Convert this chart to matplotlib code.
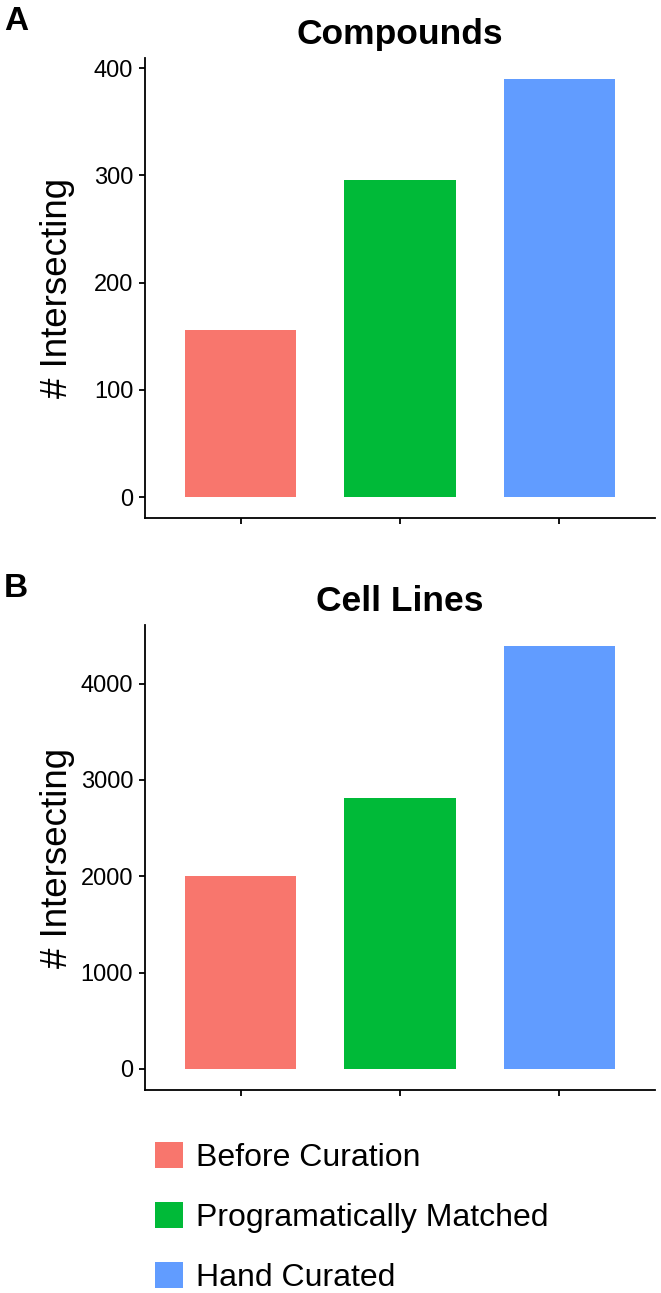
import matplotlib
matplotlib.use('Agg')
import matplotlib.pyplot as plt

plt.rcParams['font.family'] = ['Liberation Sans', 'DejaVu Sans']

# data
groups = ['Before Curation', 'Programatically Matched', 'Hand Curated']
colors = ['#F8766D', '#00BA38', '#619CFF']
compounds = [156, 296, 390]
cell_lines = [2003, 2810, 4388]
compound_ticks = [0, 100, 200, 300, 400]
cell_ticks = [0, 1000, 2000, 3000, 4000]

fig = plt.figure(figsize=(6.61, 12.93), dpi=100)

# axes boxes in figure fractions (left, bottom, width, height)
ax_a = fig.add_axes([145 / 661, 1 - 518 / 1293, 510 / 661, 460 / 1293])
ax_b = fig.add_axes([145 / 661, 1 - 1090 / 1293, 510 / 661, 465 / 1293])


def draw_panel(ax, values, ticks, title):
    x = range(len(values))
    bars = ax.bar(x, values, width=0.7, color=colors)
    ax.set_xlim(-0.6, len(values) - 0.4)
    top = max(values)
    ax.set_ylim(-0.05 * top, 1.05 * top)
    ax.set_yticks(ticks)
    ax.set_xticks(list(x))
    ax.set_xticklabels([])
    for side in ['top', 'right']:
        ax.spines[side].set_visible(False)
    for side in ['left', 'bottom']:
        ax.spines[side].set_linewidth(1.3)
    ax.tick_params(axis='both', length=4.5, width=1.3, labelsize=17, pad=4)
    ax.set_ylabel('# Intersecting', fontsize=26.5)
    ax.yaxis.set_label_coords(-0.138, 0.5)
    ax.set_title(title, fontsize=25.5, fontweight='bold', pad=10)
    return bars


bars = draw_panel(ax_a, compounds, compound_ticks, 'Compounds')
draw_panel(ax_b, cell_lines, cell_ticks, 'Cell Lines')

fig.text(0.006, 1 - 30 / 1293, 'A', fontsize=24, fontweight='bold')
fig.text(0.006, 1 - 597 / 1293, 'B', fontsize=24, fontweight='bold')

fig.legend(bars, groups, loc='upper left', bbox_to_anchor=(155 / 661, 1 - 1142 / 1293),
           frameon=False, fontsize=23, handlelength=0.88, handleheight=0.88,
           handletextpad=0.4, labelspacing=0.9, borderpad=0, borderaxespad=0)

plt.savefig('out.png', dpi=100)
plt.close(fig)
